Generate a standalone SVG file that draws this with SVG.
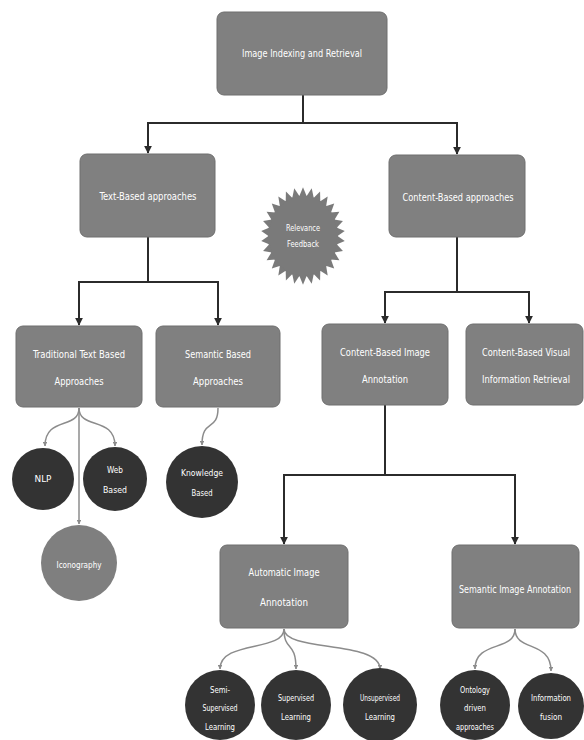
<svg xmlns="http://www.w3.org/2000/svg" xmlns:xlink="http://www.w3.org/1999/xlink" width="584" height="740" viewBox="0 0 584 740">
<style>
.box{fill:#808080;stroke:#6e6e6e;stroke-width:1}
.dark{fill:#333333}
.mid{fill:#7f7f7f}
.t{font-family:"DejaVu Sans Condensed","Liberation Sans",sans-serif;font-size:10px;fill:#ffffff;text-anchor:middle;dominant-baseline:middle}
.s{font-size:8.5px}
.elbow{fill:none;stroke:#2b2b2b;stroke-width:2}
.curly{fill:none;stroke:#8c8c8c;stroke-width:1.5}
</style>
<defs>
<marker id="arr" viewBox="0 0 10 10" refX="9" refY="5" markerWidth="4" markerHeight="4" orient="auto" markerUnits="strokeWidth">
<path d="M0,0 L10,5 L0,10 z" fill="#2b2b2b"/>
</marker>
<marker id="arrs" viewBox="0 0 10 10" refX="9" refY="5" markerWidth="3" markerHeight="3" orient="auto" markerUnits="strokeWidth">
<path d="M0,0 L10,5 L0,10 z" fill="#8c8c8c"/>
</marker>
<polygon id="spike" points="-3.8,-34 0,-42 3.8,-34" fill="#7a7a7a"/>
</defs>
<rect width="584" height="740" fill="#ffffff"/>

<g id="connectors">
<path class="elbow" d="M303,95 V123 M147,123 H458"/>
<path class="elbow" d="M148,123 V153" marker-end="url(#arr)"/>
<path class="elbow" d="M457,123 V154" marker-end="url(#arr)"/>
<path class="elbow" d="M148,237 V282 M78,282 H219"/>
<path class="elbow" d="M79,282 V325" marker-end="url(#arr)"/>
<path class="elbow" d="M218,282 V325" marker-end="url(#arr)"/>
<path class="elbow" d="M457,237 V292 M384,292 H530"/>
<path class="elbow" d="M385,292 V323" marker-end="url(#arr)"/>
<path class="elbow" d="M529,292 V323" marker-end="url(#arr)"/>
<path class="elbow" d="M385,405 V475 M283,475 H516"/>
<path class="elbow" d="M284,475 V544" marker-end="url(#arr)"/>
<path class="elbow" d="M515,475 V544" marker-end="url(#arr)"/>
<path class="curly" d="M79,408 C79,430 45,416 45,446" marker-end="url(#arrs)"/>
<path class="curly" d="M79,408 C79,430 115,416 115,446" marker-end="url(#arrs)"/>
<path class="curly" d="M79,408 V524" marker-end="url(#arrs)"/>
<path class="curly" d="M218,408 C218,432 202,418 202,445" marker-end="url(#arrs)"/>
<path class="curly" d="M284,629 C284,652 220,640 220,669" marker-end="url(#arrs)"/>
<path class="curly" d="M284,629 C284,652 296,640 296,669" marker-end="url(#arrs)"/>
<path class="curly" d="M284,629 C284,652 380,640 380,669" marker-end="url(#arrs)"/>
<path class="curly" d="M515,629 C515,652 475,640 475,669" marker-end="url(#arrs)"/>
<path class="curly" d="M515,629 C515,652 551,640 551,671" marker-end="url(#arrs)"/>
</g>

<g id="root">
<rect class="box" x="217" y="12" width="170" height="83" rx="7"/>
<text class="t" x="302" y="54" textLength="120" lengthAdjust="spacingAndGlyphs">Image Indexing and Retrieval</text>
</g>
<g id="text-based">
<rect class="box" x="80" y="154" width="135" height="83" rx="7"/>
<text class="t" x="148" y="197" textLength="97" lengthAdjust="spacingAndGlyphs">Text-Based approaches</text>
</g>
<g id="content-based">
<rect class="box" x="389" y="155" width="136" height="82" rx="7"/>
<text class="t" x="458" y="198" textLength="111" lengthAdjust="spacingAndGlyphs">Content-Based approaches</text>
</g>
<g id="relevance-feedback">
<g transform="translate(303,236) scale(1,1.16)">
<circle r="35" fill="#7a7a7a"/>
<use xlink:href="#spike" transform="rotate(0)"/>
<use xlink:href="#spike" transform="rotate(12)"/>
<use xlink:href="#spike" transform="rotate(24)"/>
<use xlink:href="#spike" transform="rotate(36)"/>
<use xlink:href="#spike" transform="rotate(48)"/>
<use xlink:href="#spike" transform="rotate(60)"/>
<use xlink:href="#spike" transform="rotate(72)"/>
<use xlink:href="#spike" transform="rotate(84)"/>
<use xlink:href="#spike" transform="rotate(96)"/>
<use xlink:href="#spike" transform="rotate(108)"/>
<use xlink:href="#spike" transform="rotate(120)"/>
<use xlink:href="#spike" transform="rotate(132)"/>
<use xlink:href="#spike" transform="rotate(144)"/>
<use xlink:href="#spike" transform="rotate(156)"/>
<use xlink:href="#spike" transform="rotate(168)"/>
<use xlink:href="#spike" transform="rotate(180)"/>
<use xlink:href="#spike" transform="rotate(192)"/>
<use xlink:href="#spike" transform="rotate(204)"/>
<use xlink:href="#spike" transform="rotate(216)"/>
<use xlink:href="#spike" transform="rotate(228)"/>
<use xlink:href="#spike" transform="rotate(240)"/>
<use xlink:href="#spike" transform="rotate(252)"/>
<use xlink:href="#spike" transform="rotate(264)"/>
<use xlink:href="#spike" transform="rotate(276)"/>
<use xlink:href="#spike" transform="rotate(288)"/>
<use xlink:href="#spike" transform="rotate(300)"/>
<use xlink:href="#spike" transform="rotate(312)"/>
<use xlink:href="#spike" transform="rotate(324)"/>
<use xlink:href="#spike" transform="rotate(336)"/>
<use xlink:href="#spike" transform="rotate(348)"/>
</g>
<text class="t s" x="303" y="228" textLength="34" lengthAdjust="spacingAndGlyphs">Relevance</text>
<text class="t s" x="303" y="244" textLength="32" lengthAdjust="spacingAndGlyphs">Feedback</text>
</g>
<g id="traditional">
<rect class="box" x="16" y="326" width="126" height="81" rx="7"/>
<text class="t" x="79" y="355" textLength="92" lengthAdjust="spacingAndGlyphs">Traditional Text Based</text>
<text class="t" x="79" y="382" textLength="49" lengthAdjust="spacingAndGlyphs">Approaches</text>
</g>
<g id="semantic-based">
<rect class="box" x="156" y="326" width="124" height="81" rx="7"/>
<text class="t" x="218" y="355" textLength="66" lengthAdjust="spacingAndGlyphs">Semantic Based</text>
<text class="t" x="218" y="382" textLength="50" lengthAdjust="spacingAndGlyphs">Approaches</text>
</g>
<g id="cbia">
<rect class="box" x="322" y="324" width="126" height="81" rx="7"/>
<text class="t" x="385" y="353" textLength="90" lengthAdjust="spacingAndGlyphs">Content-Based Image</text>
<text class="t" x="385" y="380" textLength="46" lengthAdjust="spacingAndGlyphs">Annotation</text>
</g>
<g id="cbvir">
<rect class="box" x="466" y="324" width="117" height="81" rx="7"/>
<text class="t" x="526" y="353" textLength="88" lengthAdjust="spacingAndGlyphs">Content-Based Visual</text>
<text class="t" x="526" y="380" textLength="88" lengthAdjust="spacingAndGlyphs">Information Retrieval</text>
</g>
<g id="nlp">
<circle class="dark" cx="43" cy="479" r="31"/>
<text class="t s" x="43" y="479" textLength="17" lengthAdjust="spacingAndGlyphs">NLP</text>
</g>
<g id="web-based">
<circle class="dark" cx="115" cy="479" r="32"/>
<text class="t s" x="115" y="470" textLength="16" lengthAdjust="spacingAndGlyphs">Web</text>
<text class="t s" x="115" y="490" textLength="24" lengthAdjust="spacingAndGlyphs">Based</text>
</g>
<g id="knowledge-based">
<circle class="dark" cx="202" cy="482" r="36"/>
<text class="t s" x="202" y="473" textLength="42" lengthAdjust="spacingAndGlyphs">Knowledge</text>
<text class="t s" x="202" y="493" textLength="21" lengthAdjust="spacingAndGlyphs">Based</text>
</g>
<g id="iconography">
<circle class="mid" cx="79" cy="563" r="38"/>
<text class="t s" x="79" y="565" textLength="45" lengthAdjust="spacingAndGlyphs">Iconography</text>
</g>
<g id="aia">
<rect class="box" x="220" y="545" width="128" height="83" rx="7"/>
<text class="t" x="284" y="573" textLength="71" lengthAdjust="spacingAndGlyphs">Automatic Image</text>
<text class="t" x="284" y="603" textLength="48" lengthAdjust="spacingAndGlyphs">Annotation</text>
</g>
<g id="sia">
<rect class="box" x="452" y="545" width="127" height="83" rx="7"/>
<text class="t" x="515" y="590" textLength="112" lengthAdjust="spacingAndGlyphs">Semantic Image Annotation</text>
</g>
<g id="semi-supervised">
<circle class="dark" cx="220" cy="705" r="35"/>
<text class="t s" x="220" y="690" textLength="20" lengthAdjust="spacingAndGlyphs">Semi-</text>
<text class="t s" x="220" y="708" textLength="35" lengthAdjust="spacingAndGlyphs">Supervised</text>
<text class="t s" x="220" y="727" textLength="30" lengthAdjust="spacingAndGlyphs">Learning</text>
</g>
<g id="supervised">
<circle class="dark" cx="296" cy="705" r="35"/>
<text class="t s" x="296" y="698" textLength="36" lengthAdjust="spacingAndGlyphs">Supervised</text>
<text class="t s" x="296" y="717" textLength="30" lengthAdjust="spacingAndGlyphs">Learning</text>
</g>
<g id="unsupervised">
<circle class="dark" cx="380" cy="705" r="37"/>
<text class="t s" x="380" y="698" textLength="40" lengthAdjust="spacingAndGlyphs">Unsupervised</text>
<text class="t s" x="380" y="717" textLength="30" lengthAdjust="spacingAndGlyphs">Learning</text>
</g>
<g id="ontology">
<circle class="dark" cx="475" cy="705" r="35"/>
<text class="t s" x="475" y="690" textLength="30" lengthAdjust="spacingAndGlyphs">Ontology</text>
<text class="t s" x="475" y="708" textLength="22" lengthAdjust="spacingAndGlyphs">driven</text>
<text class="t s" x="475" y="727" textLength="38" lengthAdjust="spacingAndGlyphs">approaches</text>
</g>
<g id="information-fusion">
<circle class="dark" cx="551" cy="706" r="33"/>
<text class="t s" x="551" y="698" textLength="40" lengthAdjust="spacingAndGlyphs">Information</text>
<text class="t s" x="551" y="717" textLength="22" lengthAdjust="spacingAndGlyphs">fusion</text>
</g>
</svg>
